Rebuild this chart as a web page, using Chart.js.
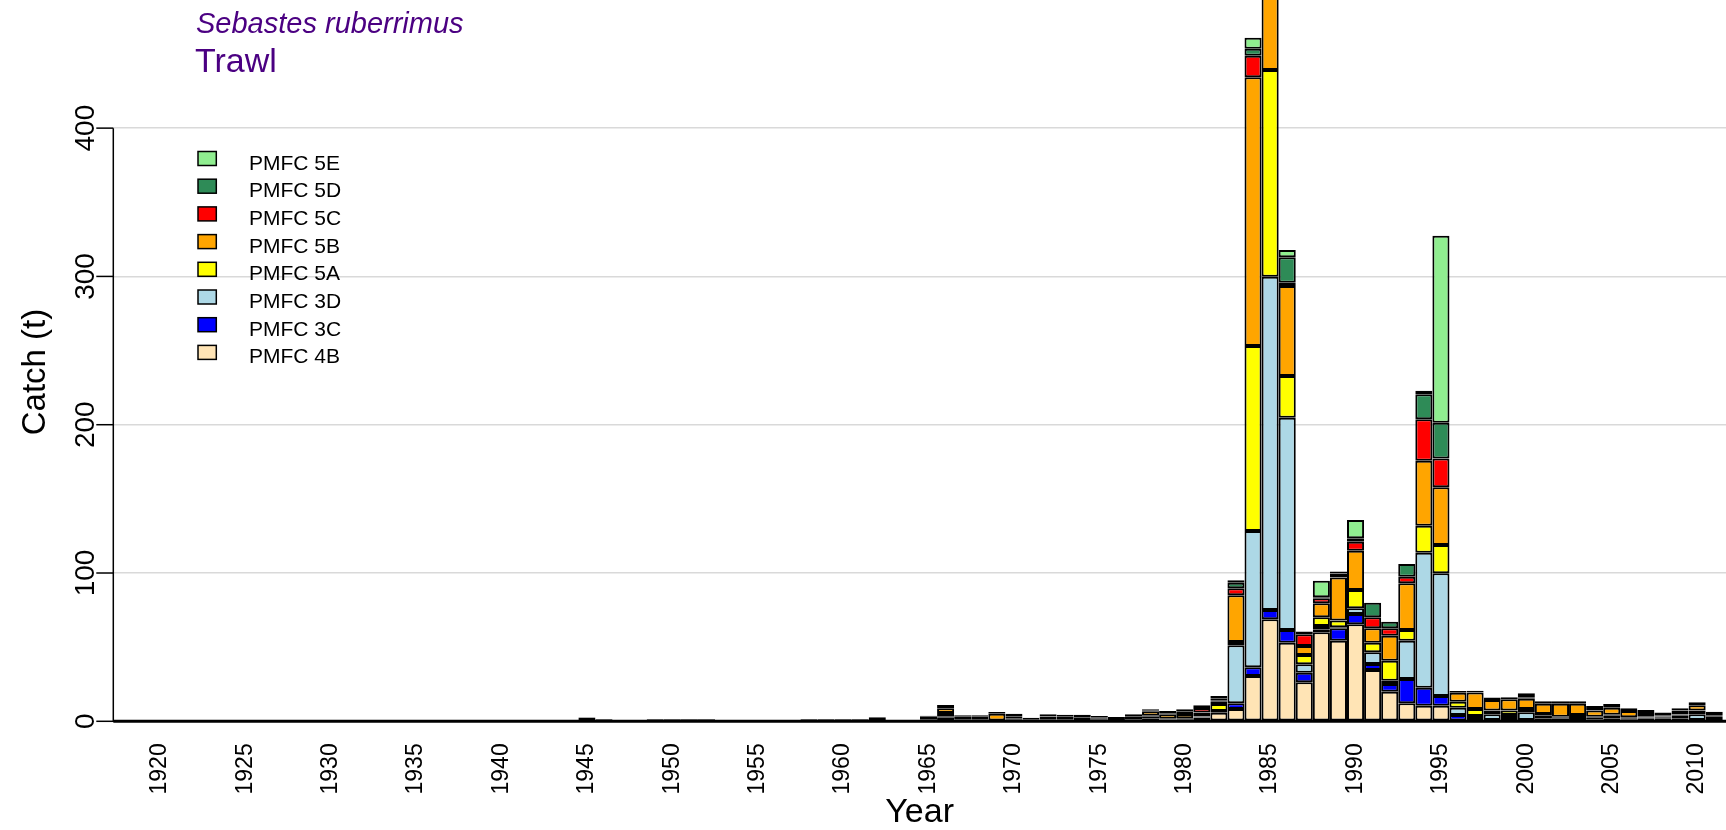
<!DOCTYPE html>
<html>
<head>
<meta charset="utf-8">
<title>Sebastes ruberrimus – Trawl catch</title>
<script src="https://cdn.jsdelivr.net/npm/chart.js@4.4.1/dist/chart.umd.min.js"></script>
<style>
  html, body { margin: 0; padding: 0; background: #ffffff; }
  #wrap { width: 1726px; height: 830px; }
  canvas { display: block; }
</style>
</head>
<body>
<div id="wrap"><canvas id="catchChart" width="1726" height="830"></canvas></div>
<script>
// Fishing years (one stacked bar per year)
const years = [
  1918, 1919,
  1920, 1921, 1922, 1923, 1924, 1925, 1926, 1927, 1928, 1929,
  1930, 1931, 1932, 1933, 1934, 1935, 1936, 1937, 1938, 1939,
  1940, 1941, 1942, 1943, 1944, 1945, 1946, 1947, 1948, 1949,
  1950, 1951, 1952, 1953, 1954, 1955, 1956, 1957, 1958, 1959,
  1960, 1961, 1962, 1963, 1964, 1965, 1966, 1967, 1968, 1969,
  1970, 1971, 1972, 1973, 1974, 1975, 1976, 1977, 1978, 1979,
  1980, 1981, 1982, 1983, 1984, 1985, 1986, 1987, 1988, 1989,
  1990, 1991, 1992, 1993, 1994, 1995, 1996, 1997, 1998, 1999,
  2000, 2001, 2002, 2003, 2004, 2005, 2006, 2007, 2008, 2009,
  2010, 2011
];

// Catch (t) by PMFC area, same order as `years`
const pmfc4B = [
  0, 0,
  0, 0, 0, 0, 0, 0, 0, 0, 0, 0,
  0, 0, 0, 0, 0, 0, 0, 0, 0, 0,
  0, 0, 0, 0, 0, 0, 0, 0, 0, 0,
  0, 0, 0, 0, 0, 0, 0, 0, 0, 0,
  0, 0, 0, 0, 0, 0, 0, 0, 0, 0,
  0, 0, 0, 0, 0, 0, 0, 0, 0, 0,
  0, 0, 5.8, 8.3, 30.5, 68.8, 53.0, 26.3, 60.0, 54.4,
  65.4, 34.6, 20.0, 12.1, 10.5, 10.5, 0, 0, 0, 0,
  0, 0, 0, 0, 0, 0, 0, 0, 0, 0,
  0, 0
];
const pmfc3C = [
  0, 0,
  0, 0, 0, 0, 0, 0, 0, 0, 0, 0,
  0, 0, 0, 0, 0, 0, 0, 0, 0, 0,
  0, 0, 0, 0, 0, 0.4, 0, 0, 0, 0,
  0, 0, 0, 0, 0, 0, 0, 0, 0, 0,
  0, 0, 0.4, 0, 0, 0.5, 2.4, 0, 0.5, 0,
  1.0, 0, 0, 0, 0, 0.7, 0, 0, 1.8, 0.6,
  0.6, 0.5, 0.5, 3.8, 5.9, 6.2, 8.6, 6.5, 2.0, 8.3,
  7.0, 4.0, 5.2, 16.4, 12.2, 6.6, 4.2, 2.2, 0.8, 2.2,
  0.8, 1.8, 1.8, 0.8, 1.0, 1.8, 1.0, 1.8, 1.8, 1.8,
  0.8, 0.8
];
const pmfc3D = [
  0, 0,
  0, 0, 0, 0, 0, 0, 0, 0, 0, 0,
  0, 0, 0, 0, 0, 0, 0, 0, 0, 0,
  0, 0, 0, 0, 0, 0, 0, 0, 0, 0,
  0, 0, 0, 0, 0, 0, 0, 0, 0, 0,
  0, 0, 0, 0, 0, 0.5, 1.0, 0.5, 0, 0.6,
  1.0, 0, 0.5, 0.5, 0.8, 0.7, 0, 1.0, 1.2, 0.6,
  0.8, 2.0, 0.7, 39.1, 91.9, 224.8, 143.1, 5.6, 2.3, 0.8,
  3.8, 7.9, 2.2, 25.9, 91.0, 82.7, 5.0, 1.4, 3.9, 2.0,
  5.3, 2.3, 0.6, 0.8, 1.4, 2.0, 1.0, 0.8, 1.0, 2.3,
  3.9, 2.6
];
const pmfc5A = [
  0, 0,
  0, 0, 0, 0, 0, 0, 0, 0, 0, 0,
  0, 0, 0, 0, 0, 0, 0, 0, 0, 0,
  0, 0, 0, 0, 0, 0, 0, 0, 0, 0,
  0, 0, 0, 0, 0, 0, 0, 0, 0, 0,
  0, 0, 0, 0, 0, 0.5, 2.2, 0.5, 0.5, 0,
  1.0, 0, 0.5, 0.5, 2.0, 0.7, 0, 0.6, 0.8, 0.6,
  0.6, 0.8, 4.6, 2.3, 124.8, 139.4, 28.1, 6.3, 5.8, 4.4,
  12.3, 6.5, 13.5, 7.2, 18.2, 19.1, 4.0, 4.7, 2.5, 3.0,
  2.2, 0.8, 0.6, 2.6, 0.6, 0.6, 0.8, 0.8, 0.5, 0.5,
  2.5, 0.6
];
const pmfc5B = [
  0, 0,
  0, 0, 0, 0, 0, 0, 0, 0, 0, 0,
  0, 0, 0, 0, 0, 0, 0, 0, 0, 0,
  0, 0, 0, 0.3, 0.3, 2.0, 0.8, 0, 0, 0.8,
  0.8, 0.8, 0.8, 0, 0, 0, 0, 0, 0.8, 0.8,
  0.8, 0.8, 1.8, 0, 0, 1.5, 3.2, 2.0, 2.0, 4.5,
  1.2, 1.4, 2.2, 2.0, 0.8, 0.7, 1.6, 1.8, 3.0, 3.0,
  3.0, 2.6, 1.5, 31.5, 181.2, 95.0, 60.7, 6.1, 9.5, 29.0,
  26.5, 9.7, 16.8, 31.5, 43.8, 38.9, 6.1, 11.2, 7.2, 7.6,
  6.9, 7.0, 8.9, 7.7, 4.2, 4.8, 4.1, 2.2, 0.5, 2.6,
  3.6, 1.0
];
const pmfc5C = [
  0, 0,
  0, 0, 0, 0, 0, 0, 0, 0, 0, 0,
  0, 0, 0, 0, 0, 0, 0, 0, 0, 0,
  0, 0, 0, 0, 0, 0, 0, 0, 0, 0,
  0, 0, 0, 0, 0, 0, 0, 0, 0, 0,
  0, 0, 0, 0, 0, 0, 0.8, 0, 0, 0,
  0, 0, 0, 0, 0, 0, 0, 0, 0.3, 0.6,
  1.8, 3.0, 0.8, 4.7, 14.5, 0, 2.3, 7.9, 3.3, 2.7,
  6.0, 7.4, 5.0, 4.4, 27.9, 19.5, 0, 0, 0, 0,
  1.0, 0, 0, 0, 1.1, 0, 0, 0, 0, 0,
  0, 0
];
const pmfc5D = [
  0, 0,
  0, 0, 0, 0, 0, 0, 0, 0, 0, 0,
  0, 0, 0, 0, 0, 0, 0, 0, 0, 0,
  0, 0, 0, 0.2, 0.2, 0.4, 0.5, 0, 0, 0.5,
  0.5, 0.5, 0.5, 0, 0, 0, 0, 0, 0.5, 0.5,
  0.5, 0.5, 0.6, 0, 0, 0.8, 1.4, 1.0, 1.0, 1.2,
  0.9, 1.0, 1.5, 1.5, 0.9, 0.8, 1.3, 1.3, 1.0, 1.5,
  1.3, 1.9, 1.6, 3.8, 4.7, 0, 17.1, 1.5, 0.7, 1.0,
  2.4, 9.9, 4.5, 8.6, 16.9, 24.0, 1.1, 1.1, 1.6, 1.4,
  2.7, 1.6, 1.6, 1.6, 2.0, 2.4, 1.9, 2.0, 2.2, 1.6,
  2.0, 1.5
];
const pmfc5E = [
  0, 0,
  0, 0, 0, 0, 0, 0, 0, 0, 0, 0,
  0, 0, 0, 0, 0, 0, 0, 0, 0, 0,
  0, 0, 0, 0, 0, 0, 0, 0, 0, 0,
  0, 0, 0, 0, 0, 0, 0, 0, 0, 0,
  0, 0, 0, 0, 0, 0, 0, 0, 0, 0,
  0, 0, 0, 0, 0, 0, 0, 0, 0, 0,
  0, 0, 1.5, 1.6, 7.5, 0, 4.9, 0.3, 11.2, 0.4,
  12.3, 0, 0, 0, 2.4, 126.1, 0, 0, 0, 0,
  0, 0, 0, 0, 0, 0, 0, 0, 0, 0,
  0, 0
];

// Stacking order, bottom to top
const seriesNames = ['PMFC 4B', 'PMFC 3C', 'PMFC 3D', 'PMFC 5A', 'PMFC 5B', 'PMFC 5C', 'PMFC 5D', 'PMFC 5E'];
const seriesColors = ['#FFE4B5', '#0000FF', '#ADD8E6', '#FFFF00', '#FFA500', '#FF0000', '#2E8B57', '#90EE90'];
const seriesValues = [pmfc4B, pmfc3C, pmfc3D, pmfc5A, pmfc5B, pmfc5C, pmfc5D, pmfc5E];

// Axis ticks
const yTicks = [0, 100, 200, 300, 400];
const xTickYears = [1920, 1925, 1930, 1935, 1940, 1945, 1950, 1955, 1960, 1965,
                    1970, 1975, 1980, 1985, 1990, 1995, 2000, 2005, 2010];

const FONT = '"Liberation Sans", Arial, Helvetica, sans-serif';

const datasets = seriesNames.map((name, i) => ({
  label: name,
  data: years.map((yr, j) => ({ x: yr, y: seriesValues[i][j] })),
  backgroundColor: seriesColors[i],
  borderColor: '#000000',
  borderWidth: 2,
  borderSkipped: false,
  inflateAmount: 0,
  barPercentage: 1,
  categoryPercentage: 1,
  stack: 'catch'
}));

// Axes, titles and legend drawn in base-graphics style
const decorations = {
  id: 'decorations',
  afterDatasetsDraw(chart) {
    const { ctx, chartArea: a, scales: { x, y } } = chart;
    const y0 = y.getPixelForValue(0);
    ctx.save();
    ctx.strokeStyle = '#000000';
    ctx.fillStyle = '#000000';

    // baseline under the bars
    ctx.lineWidth = 3;
    ctx.beginPath();
    ctx.moveTo(a.left, y0);
    ctx.lineTo(a.right, y0);
    ctx.stroke();

    // y axis line spanning the tick range
    const yTop = y.getPixelForValue(yTicks[yTicks.length - 1]);
    ctx.lineWidth = 1.5;
    ctx.beginPath();
    ctx.moveTo(a.left, y0 + 0.75);
    ctx.lineTo(a.left, yTop);
    ctx.stroke();

    // y ticks and rotated labels
    ctx.font = '28px ' + FONT;
    yTicks.forEach(v => {
      const py = y.getPixelForValue(v);
      ctx.beginPath();
      ctx.moveTo(a.left - 17, py);
      ctx.lineTo(a.left, py);
      ctx.stroke();
      ctx.save();
      ctx.translate(86, py);
      ctx.rotate(-Math.PI / 2);
      ctx.textAlign = 'center';
      ctx.textBaseline = 'middle';
      ctx.fillText(String(v), 0, 0);
      ctx.restore();
    });

    // x tick labels, vertical
    ctx.font = '23px ' + FONT;
    xTickYears.forEach(yr => {
      const px = x.getPixelForValue(yr);
      ctx.save();
      ctx.translate(px, y0 + 22);
      ctx.rotate(-Math.PI / 2);
      ctx.textAlign = 'right';
      ctx.textBaseline = 'middle';
      ctx.fillText(String(yr), 0, 0);
      ctx.restore();
    });

    // axis titles
    ctx.font = '34px ' + FONT;
    ctx.textAlign = 'center';
    ctx.textBaseline = 'alphabetic';
    ctx.fillText('Year', (a.left + a.right) / 2, 822);
    ctx.font = '33px ' + FONT;
    ctx.save();
    ctx.translate(36, 372);
    ctx.rotate(-Math.PI / 2);
    ctx.textBaseline = 'middle';
    ctx.fillText('Catch (t)', 0, 0);
    ctx.restore();

    // species and gear
    ctx.fillStyle = '#4B0082';
    ctx.textAlign = 'left';
    ctx.textBaseline = 'alphabetic';
    ctx.font = 'italic 29px ' + FONT;
    ctx.fillText('Sebastes ruberrimus', 196, 33);
    ctx.font = '34px ' + FONT;
    ctx.fillText('Trawl', 195, 72);

    // legend, top entry is the top of the stack
    ctx.font = '21px ' + FONT;
    ctx.lineWidth = 1.5;
    const ds = chart.data.datasets;
    for (let r = 0; r < ds.length; r++) {
      const d = ds[ds.length - 1 - r];
      const cy = 158.5 + r * 27.7;
      ctx.fillStyle = d.backgroundColor;
      ctx.fillRect(198, cy - 7, 18.3, 14);
      ctx.strokeStyle = '#000000';
      ctx.strokeRect(198, cy - 7, 18.3, 14);
      ctx.fillStyle = '#000000';
      ctx.fillText(d.label, 249, cy + 11);
    }
    ctx.restore();
  }
};

new Chart(document.getElementById('catchChart'), {
  type: 'bar',
  data: { datasets },
  plugins: [decorations],
  options: {
    responsive: false,
    animation: false,
    devicePixelRatio: 1,
    layout: { padding: 0 },
    plugins: {
      legend: { display: false },
      title: { display: false },
      tooltip: { enabled: false }
    },
    scales: {
      x: {
        type: 'linear',
        stacked: true,
        min: 1917.27,
        max: 2011.69,
        offset: false,
        grid: { display: false },
        border: { display: false },
        ticks: { display: false },
        afterFit(s) { s.height = 108.7; }
      },
      y: {
        stacked: true,
        min: 0,
        max: 486.4,
        afterBuildTicks(s) { s.ticks = yTicks.map(v => ({ value: v })); },
        grid: {
          color: c => (c.tick && c.tick.value === 0) ? 'rgba(0,0,0,0)' : '#D9D9D9',
          lineWidth: 1.5,
          drawTicks: false
        },
        border: { display: false },
        ticks: { display: false },
        afterFit(s) { s.width = 113.3; }
      }
    }
  }
});
</script>
</body>
</html>
